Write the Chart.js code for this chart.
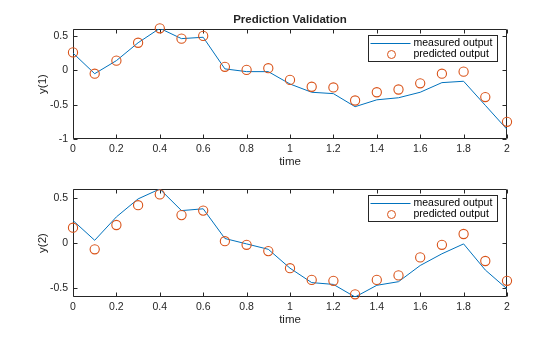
<!DOCTYPE html>
<html>
<head>
<meta charset="utf-8">
<script src="https://cdn.jsdelivr.net/npm/chart.js@4/dist/chart.umd.min.js"></script>
<style>
html,body{margin:0;padding:0;background:#fff;}
#wrap{position:relative;width:560px;height:337px;overflow:hidden;background:#fff;}
canvas{position:absolute;left:0;top:0;}
</style>
</head>
<body>
<div id="wrap">
<canvas id="c1" width="560" height="337"></canvas>
<canvas id="c2" width="560" height="337"></canvas>
</div>
<script>
// ---- data ----
const time = [0, 0.1, 0.2, 0.3, 0.4, 0.5, 0.6, 0.7, 0.8, 0.9, 1.0, 1.1, 1.2, 1.3, 1.4, 1.5, 1.6, 1.7, 1.8, 1.9, 2.0];
const y1Measured  = [0.25, -0.05, 0.14, 0.40, 0.61, 0.46, 0.48, 0.02, -0.02, -0.02, -0.20, -0.32, -0.34, -0.53, -0.43, -0.40, -0.32, -0.18, -0.16, -0.51, -0.86];
const y1Predicted = [0.26, -0.05, 0.14, 0.40, 0.61, 0.46, 0.50, 0.05, 0.005, 0.03, -0.14, -0.24, -0.25, -0.44, -0.32, -0.28, -0.19, -0.05, -0.02, -0.39, -0.75];
const y2Measured  = [0.25, 0.03, 0.29, 0.49, 0.60, 0.36, 0.38, 0.05, -0.01, -0.07, -0.28, -0.44, -0.46, -0.60, -0.47, -0.43, -0.25, -0.12, -0.01, -0.30, -0.51];
const y2Predicted = [0.17, -0.07, 0.20, 0.42, 0.54, 0.31, 0.36, 0.02, -0.02, -0.09, -0.28, -0.41, -0.42, -0.57, -0.41, -0.36, -0.16, -0.02, 0.10, -0.20, -0.42];
const xTicks  = [0, 0.2, 0.4, 0.6, 0.8, 1, 1.2, 1.4, 1.6, 1.8, 2];
const y1Ticks = [-1, -0.5, 0, 0.5];
const y2Ticks = [-0.5, 0, 0.5];
const seriesLabels = ['measured output', 'predicted output'];
const titleText = 'Prediction Validation';
const xLabel = 'time';

// ---- styles ----
const FONT = "'Liberation Sans', Arial, Helvetica, sans-serif";
const AX = '#262626';
const BLUE = '#0072BD';
const ORANGE = '#D95319';

const matlabAxes = {
  id: 'matlabAxes',
  beforeDatasetsDraw(chart) {
    const {ctx, chartArea: a, scales: {x, y}} = chart;
    const L = Math.round(a.left) + 0.5, R = Math.round(a.right) - 0.5;
    const T = Math.round(a.top) + 0.5, B = Math.round(a.bottom) - 0.5;
    ctx.save();
    ctx.strokeStyle = AX;
    ctx.lineWidth = 1;
    ctx.beginPath();
    ctx.rect(L, T, R - L, B - T);
    const tl = 4;
    x.ticks.forEach(t => {
      const px = Math.round(x.getPixelForValue(t.value)) + 0.5;
      ctx.moveTo(px, B); ctx.lineTo(px, B - tl);
      ctx.moveTo(px, T); ctx.lineTo(px, T + tl);
    });
    y.ticks.forEach(t => {
      const py = Math.round(y.getPixelForValue(t.value)) + 0.5;
      ctx.moveTo(L, py); ctx.lineTo(L + tl, py);
      ctx.moveTo(R, py); ctx.lineTo(R - tl, py);
    });
    ctx.stroke();
    ctx.restore();
  },
  afterDatasetsDraw(chart) {
    const {ctx, chartArea: a} = chart;
    const ds = chart.data.datasets;
    const left = Math.round(a.right) - 10 - 129 + 0.5;
    const top = Math.round(a.top) + 6 + 0.5;
    const w = 129, h = 26;
    ctx.save();
    ctx.fillStyle = '#fff';
    ctx.fillRect(left, top, w, h);
    ctx.strokeStyle = AX;
    ctx.lineWidth = 1;
    ctx.strokeRect(left, top, w, h);
    // line sample
    ctx.strokeStyle = ds[0].borderColor;
    ctx.beginPath();
    ctx.moveTo(left + 2, top + 8);
    ctx.lineTo(left + 42, top + 8);
    ctx.stroke();
    // marker sample
    ctx.strokeStyle = ds[1].borderColor;
    ctx.beginPath();
    ctx.arc(left + 23, top + 19, 4, 0, Math.PI * 2);
    ctx.stroke();
    ctx.fillStyle = '#000';
    ctx.font = '10.5px ' + FONT;
    ctx.textBaseline = 'middle';
    ctx.textAlign = 'left';
    ctx.fillText(ds[0].label, left + 45, top + 8);
    ctx.fillText(ds[1].label, left + 45, top + 19);
    ctx.restore();
  }
};

function makeChart(id, measured, predicted, yTicks, yMin, yMax, yLabel, padding, showTitle) {
  const ctx = document.getElementById(id).getContext('2d');
  return new Chart(ctx, {
    type: 'line',
    data: {
      datasets: [
        {
          label: seriesLabels[0],
          data: time.map((t, i) => ({x: t, y: measured[i]})),
          borderColor: BLUE,
          borderWidth: 1,
          pointRadius: 0,
          tension: 0,
          fill: false,
          order: 1
        },
        {
          label: seriesLabels[1],
          data: time.map((t, i) => ({x: t, y: predicted[i]})),
          showLine: false,
          borderColor: ORANGE,
          backgroundColor: 'rgba(0,0,0,0)',
          pointBorderColor: ORANGE,
          pointBackgroundColor: 'rgba(0,0,0,0)',
          pointBorderWidth: 1.1,
          pointRadius: 4.6,
          pointStyle: 'circle',
          clip: 8,
          order: 0
        }
      ]
    },
    options: {
      responsive: false,
      animation: false,
      devicePixelRatio: 1,
      events: [],
      layout: {padding: padding},
      plugins: {
        legend: {display: false},
        tooltip: {enabled: false},
        title: {
          display: showTitle,
          text: titleText,
          fullSize: false,
          color: AX,
          font: {family: FONT, size: 11.5, weight: 'bold', lineHeight: 1.2},
          padding: {top: 12.5, bottom: 2.7}
        }
      },
      scales: {
        x: {
          type: 'linear',
          min: 0, max: 2,
          afterBuildTicks: s => { s.ticks = xTicks.map(v => ({value: v})); },
          afterFit: s => { s.height = 30; },
          grid: {display: false, drawTicks: false},
          border: {display: false},
          ticks: {
            color: AX, padding: 4, maxRotation: 0, autoSkip: false,
            font: {family: FONT, size: 10.5},
            callback: v => String(v)
          },
          title: {
            display: true, text: xLabel, color: AX,
            font: {family: FONT, size: 11.5, lineHeight: 1.2},
            padding: {top: 0, bottom: 0}
          }
        },
        y: {
          type: 'linear',
          min: yMin, max: yMax,
          afterBuildTicks: s => { s.ticks = yTicks.map(v => ({value: v})); },
          afterFit: s => { s.width = 73; },
          grid: {display: false, drawTicks: false},
          border: {display: false},
          ticks: {
            color: AX, padding: 5, autoSkip: false,
            font: {family: FONT, size: 10.5},
            callback: v => String(v)
          },
          title: {
            display: true, text: yLabel, color: AX,
            font: {family: FONT, size: 11.5, lineHeight: 1.2},
            padding: {top: 36, bottom: 0}
          }
        }
      }
    },
    plugins: [matlabAxes]
  });
}

makeChart('c1', y1Measured, y1Predicted, y1Ticks, -1, 0.6, 'y(1)',
  {left: 0, right: 53, top: 0, bottom: 168}, true);
makeChart('c2', y2Measured, y2Predicted, y2Ticks, -0.6, 0.6, 'y(2)',
  {left: 0, right: 53, top: 189, bottom: 10}, false);
</script>
</body>
</html>
